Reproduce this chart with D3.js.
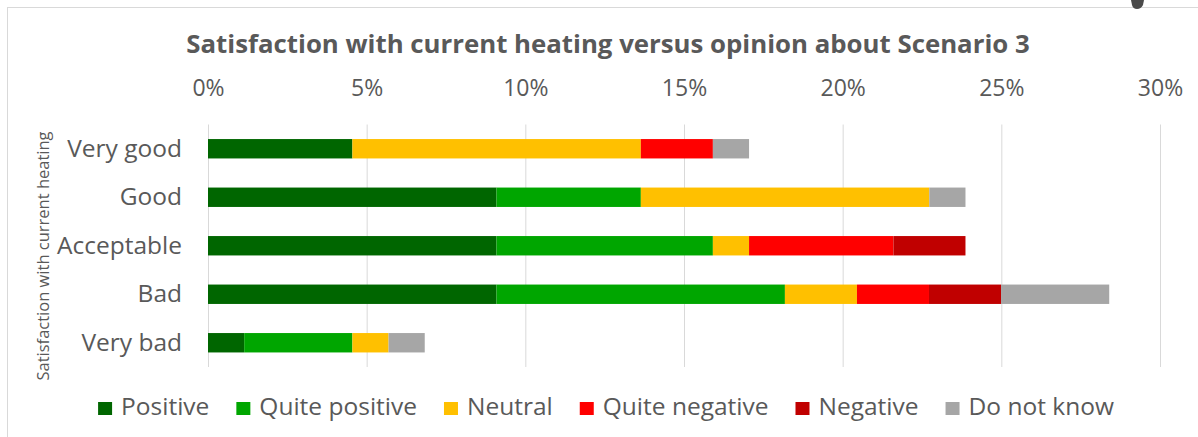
<!DOCTYPE html>
<html>
<head>
<meta charset="utf-8">
<script src="https://cdn.jsdelivr.net/npm/d3@7/dist/d3.min.js"></script>
<style>
  html, body { margin: 0; padding: 0; background: #ffffff; }
  svg { display: block; font-family: "Open Sans", "DejaVu Sans", sans-serif; }
</style>
</head>
<body>
<svg id="chart" width="1198" height="437"></svg>
<script>
// Survey answers (share of respondents, %) by current heating satisfaction
const categories = ["Very good", "Good", "Acceptable", "Bad", "Very bad"];
const seriesNames = ["Positive", "Quite positive", "Neutral", "Quite negative", "Negative", "Do not know"];
const positive      = [4.55, 9.09, 9.09, 9.09, 1.14];
const quitePositive = [0.00, 4.55, 6.82, 9.09, 3.41];
const neutral       = [9.09, 9.09, 1.14, 2.27, 1.14];
const quiteNegative = [2.27, 0.00, 4.55, 2.27, 0.00];
const negative      = [0.00, 0.00, 2.27, 2.27, 0.00];
const doNotKnow     = [1.14, 1.14, 0.00, 3.41, 1.14];
const tickValues = [0, 5, 10, 15, 20, 25, 30];
const seriesColors = ["#006600", "#00a600", "#ffc000", "#ff0000", "#c00000", "#a6a6a6"];

const seriesValues = [positive, quitePositive, neutral, quiteNegative, negative, doNotKnow];
const rows = categories.map((c, i) => {
  const r = { category: c };
  seriesNames.forEach((s, k) => { r[s] = seriesValues[k][i]; });
  return r;
});

const svg = d3.select("#chart");
const textColor = "#595959";

// chart frame
svg.append("rect")
  .attr("x", 7.5).attr("y", 7.5)
  .attr("width", 1198).attr("height", 440)
  .attr("fill", "none").attr("stroke", "#d9d9d9").attr("stroke-width", 1);

// small dark handle at the top edge
svg.append("path")
  .attr("d", "M1131,0 L1144,0 L1143,5 Q1141,9 1137,9 Q1133,9 1132,5 Z")
  .attr("fill", "#4a4a4a");

const x = d3.scaleLinear().domain([0, 30]).range([208, 1160]);
const y = d3.scaleBand().domain(categories).range([124.5, 367]).paddingInner(0.6).paddingOuter(0.3);

// title
svg.append("text")
  .attr("x", 608).attr("y", 53)
  .attr("text-anchor", "middle")
  .attr("font-size", 25.8).attr("font-weight", 700)
  .attr("fill", textColor)
  .text("Satisfaction with current heating versus opinion about Scenario 3");

// vertical gridlines
svg.append("g")
  .selectAll("line")
  .data(tickValues)
  .join("line")
  .attr("x1", d => x(d) + 0.5).attr("x2", d => x(d) + 0.5)
  .attr("y1", 124.5).attr("y2", 367)
  .attr("stroke", "#d9d9d9").attr("stroke-width", 1);

// top percentage axis
const xAxis = svg.append("g")
  .attr("transform", "translate(0,96)")
  .call(d3.axisTop(x).tickValues(tickValues).tickFormat(d => d + "%").tickSize(0).tickPadding(0));
xAxis.select(".domain").remove();
xAxis.selectAll("text")
  .attr("font-family", "'Open Sans', sans-serif")
  .attr("font-size", 23).attr("fill", textColor)
  .attr("dy", 0);

// category axis
const yAxis = svg.append("g")
  .attr("transform", "translate(182,0)")
  .call(d3.axisLeft(y).tickSize(0).tickPadding(0));
yAxis.select(".domain").remove();
yAxis.selectAll("text")
  .attr("font-family", "'Open Sans', sans-serif")
  .attr("font-size", 24.5).attr("fill", textColor);

// vertical axis title
svg.append("text")
  .attr("transform", "translate(49,256) rotate(-90)")
  .attr("text-anchor", "middle")
  .attr("font-size", 16.5).attr("fill", textColor)
  .text("Satisfaction with current heating");

// stacked bars
const stacked = d3.stack().keys(seriesNames)(rows);
svg.append("g")
  .selectAll("g")
  .data(stacked)
  .join("g")
  .attr("fill", (d, i) => seriesColors[i])
  .selectAll("rect")
  .data(d => d)
  .join("rect")
  .attr("x", d => x(d[0]))
  .attr("y", d => y(d.data.category))
  .attr("width", d => x(d[1]) - x(d[0]))
  .attr("height", y.bandwidth());

// legend, laid out in one centred row
const legendGap = 27;
const legend = svg.append("g");
const items = legend.selectAll("g")
  .data(seriesNames)
  .join("g");
items.append("rect")
  .attr("width", 14).attr("height", 13)
  .attr("y", -13)
  .attr("fill", (d, i) => seriesColors[i]);
items.append("text")
  .attr("x", 23).attr("y", 0)
  .attr("font-size", 24.5).attr("fill", textColor)
  .text(d => d);
let cursor = 0;
items.each(function () {
  const g = d3.select(this);
  g.attr("transform", `translate(${cursor},0)`);
  const w = g.select("text").node().getComputedTextLength();
  cursor += 23 + w + legendGap;
});
const legendWidth = cursor - legendGap;
legend.attr("transform", `translate(${606 - legendWidth / 2},415)`);
</script>
</body>
</html>
